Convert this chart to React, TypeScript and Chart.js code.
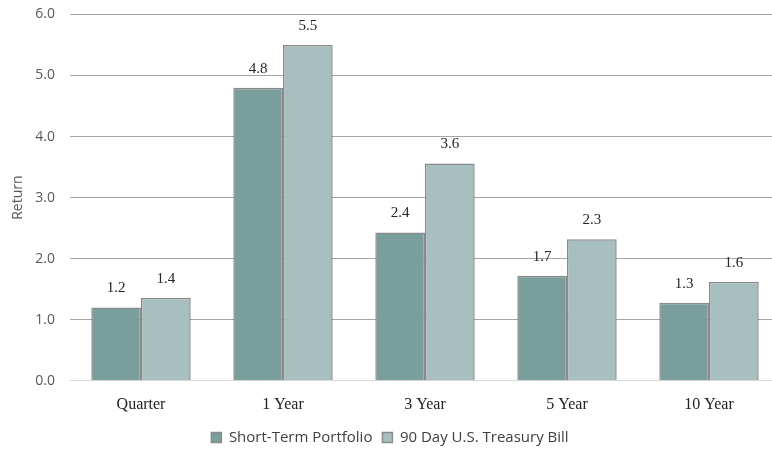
import React, { useEffect, useRef } from "react";
import { Chart, registerables } from "chart.js";

Chart.register(...registerables);

const categories = ["Quarter", "1 Year", "3 Year", "5 Year", "10 Year"];
const portfolioValues = [1.2, 4.8, 2.43, 1.72, 1.28];
const tbillValues = [1.36, 5.5, 3.56, 2.32, 1.62];
const seriesNames = ["Short-Term Portfolio", "90 Day U.S. Treasury Bill"];

const labelPlugin = {
  id: "valueLabels",
  afterDatasetsDraw(chart: any) {
    const ctx = chart.ctx;
    ctx.save();
    ctx.font = "15px 'Liberation Serif', serif";
    ctx.fillStyle = "#262626";
    ctx.textAlign = "center";
    ctx.textBaseline = "middle";
    chart.data.datasets.forEach((ds: any, i: number) => {
      const meta = chart.getDatasetMeta(i);
      meta.data.forEach((bar: any, j: number) => {
        const v = ds.data[j] as number;
        ctx.fillText(v.toFixed(1), bar.x, bar.y - 19);
      });
    });
    ctx.restore();
  },
};

export default function App() {
  const ref = useRef<HTMLCanvasElement>(null);
  useEffect(() => {
    if (!ref.current) return;
    const chart = new Chart(ref.current, {
      type: "bar",
      data: {
        labels: categories,
        datasets: [
          {
            label: seriesNames[0],
            data: portfolioValues,
            backgroundColor: "#7a9e9b",
            borderColor: "#8a8a8a",
            borderWidth: 1.5,
          },
          {
            label: seriesNames[1],
            data: tbillValues,
            backgroundColor: "#a8bfbf",
            borderColor: "#8a8a8a",
            borderWidth: 1.5,
          },
        ],
      },
      options: {
        responsive: false,
        animation: false,
        layout: { padding: { top: 6, left: 0, right: 0, bottom: 3 } },
        datasets: { bar: { categoryPercentage: 0.7, barPercentage: 1.0 } },
        scales: {
          x: {
            grid: { display: false },
            border: { display: false },
            ticks: {
              font: { family: "'Liberation Serif', serif", size: 16 },
              color: "#222",
              padding: 6,
            },
          },
          y: {
            min: 0,
            max: 6,
            afterFit(scale: any) {
              scale.width = 70;
            },
            ticks: {
              stepSize: 1,
              callback: (v: any) => Number(v).toFixed(1),
              font: { family: "'Open Sans', sans-serif", size: 14 },
              color: "#595959",
              padding: 15,
            },
            grid: {
              drawTicks: false,
              color: (c: any) => (c.tick && c.tick.value === 0 ? "#d9d9d9" : "#a6a6a6"),
              lineWidth: 1,
            },
            border: { display: false },
            title: {
              display: true,
              text: "Return",
              font: { family: "'Open Sans', sans-serif", size: 14 },
              color: "#595959",
              padding: { top: 10, bottom: 0 },
            },
          },
        },
        plugins: {
          legend: {
            position: "bottom",
            labels: {
              boxWidth: 10,
              boxHeight: 10,
              font: { family: "'Open Sans', sans-serif", size: 15 },
              color: "#404040",
              padding: 10,
            },
          },
          tooltip: { enabled: false },
        },
      },
      plugins: [labelPlugin],
    });
    return () => chart.destroy();
  }, []);
  return (
    <div style={{ position: "fixed", left: 0, top: 0, width: 772, height: 449, overflow: "hidden", background: "#fff" }}>
      <canvas ref={ref} width={780} height={467} style={{ display: "block", marginTop: -9 }} />
    </div>
  );
}
